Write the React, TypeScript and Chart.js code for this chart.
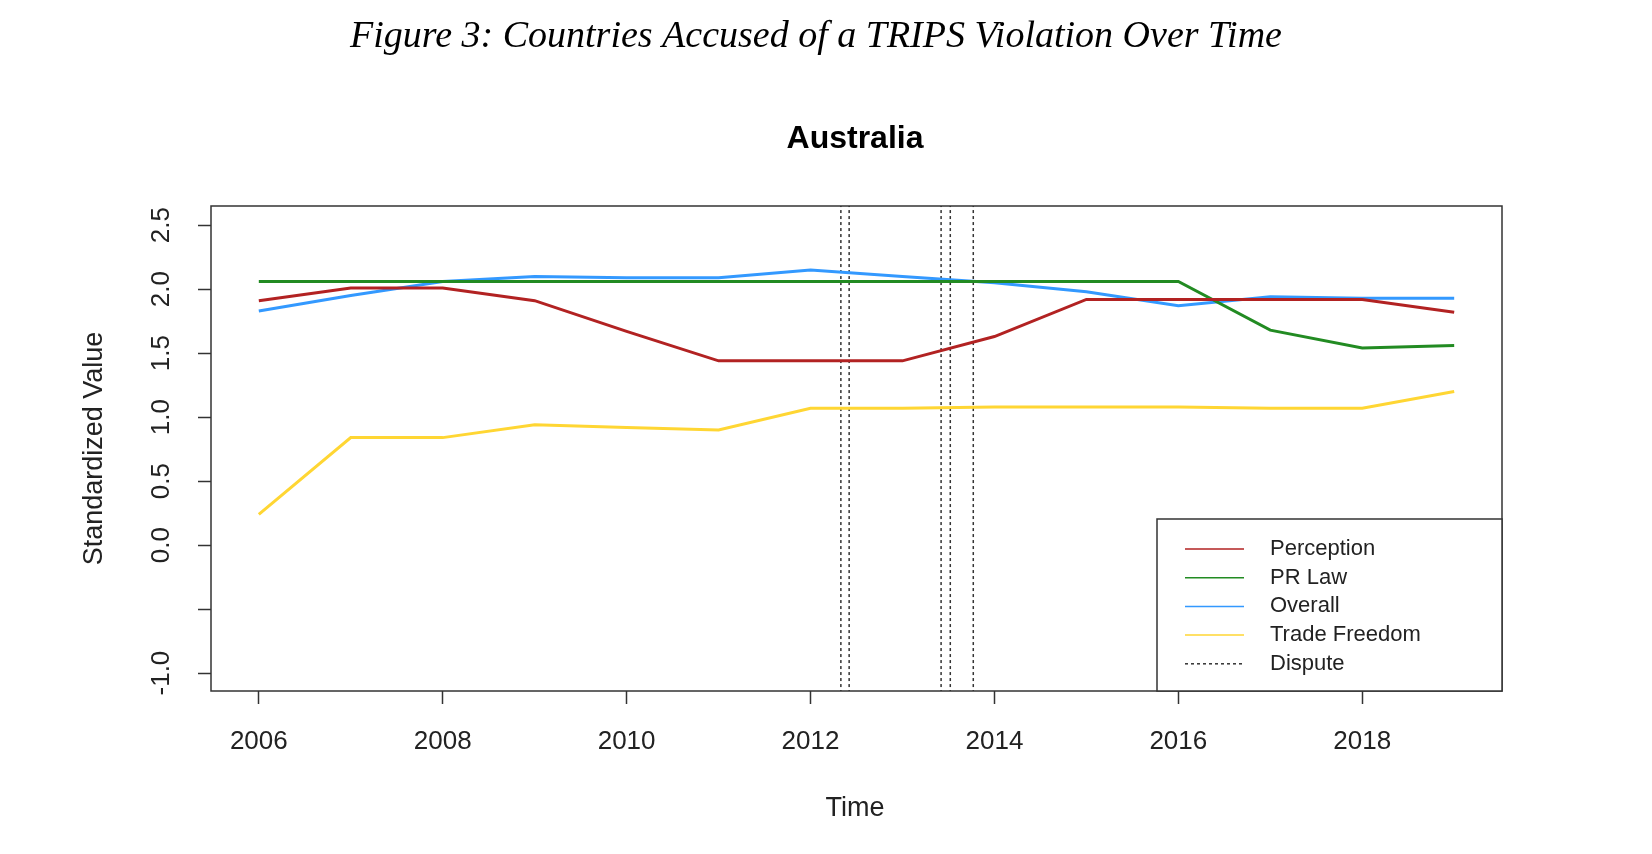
import React, { useRef, useEffect } from 'react';
import { Chart, registerables } from 'chart.js';

Chart.register(...registerables);

const years = [2006, 2007, 2008, 2009, 2010, 2011, 2012, 2013, 2014, 2015, 2016, 2017, 2018, 2019];
const perception = [1.91, 2.01, 2.01, 1.91, 1.67, 1.44, 1.44, 1.44, 1.63, 1.92, 1.92, 1.92, 1.92, 1.82];
const prLaw = [2.06, 2.06, 2.06, 2.06, 2.06, 2.06, 2.06, 2.06, 2.06, 2.06, 2.06, 1.68, 1.54, 1.56];
const overall = [1.83, 1.95, 2.06, 2.1, 2.09, 2.09, 2.15, 2.1, 2.05, 1.98, 1.87, 1.94, 1.93, 1.93];
const tradeFreedom = [0.24, 0.84, 0.84, 0.94, 0.92, 0.9, 1.07, 1.07, 1.08, 1.08, 1.08, 1.07, 1.07, 1.2];
const disputes = [2012.33, 2012.42, 2013.42, 2013.52, 2013.77];
const xTicks = [2006, 2008, 2010, 2012, 2014, 2016, 2018];
const yTicks = [-1, -0.5, 0, 0.5, 1, 1.5, 2, 2.5];
const yTickLabels = ['-1.0', '', '0.0', '0.5', '1.0', '1.5', '2.0', '2.5'];

const COLORS = { perception: '#b22222', prLaw: '#228b22', overall: '#3399ff', trade: '#ffd633', dispute: '#333333' };
const FONT = '"Liberation Sans", Arial, sans-serif';

const legendItems = [
  { label: 'Perception', color: COLORS.perception, dash: [] as number[] },
  { label: 'PR Law', color: COLORS.prLaw, dash: [] as number[] },
  { label: 'Overall', color: COLORS.overall, dash: [] as number[] },
  { label: 'Trade Freedom', color: COLORS.trade, dash: [] as number[] },
  { label: 'Dispute', color: COLORS.dispute, dash: [3, 3] }
];

const decorPlugin = {
  id: 'decor',
  afterDraw(chart: any) {
    const { ctx, chartArea: a, scales } = chart;
    ctx.save();
    // box
    ctx.strokeStyle = '#333';
    ctx.lineWidth = 1.5;
    ctx.strokeRect(a.left, a.top, a.right - a.left, a.bottom - a.top);
    // titles
    ctx.fillStyle = '#000';
    ctx.textAlign = 'center';
    ctx.textBaseline = 'middle';
    ctx.font = 'italic 38px "Liberation Serif", "Times New Roman", serif';
    ctx.fillText('Figure 3: Countries Accused of a TRIPS Violation Over Time', 816, 37);
    ctx.font = `bold 32px ${FONT}`;
    ctx.fillText('Australia', 855, 139);
    ctx.font = `27px ${FONT}`;
    ctx.fillStyle = '#222';
    ctx.fillText('Time', 855, 809);
    // y axis label & tick labels rotated
    ctx.save();
    ctx.translate(95, (a.top + a.bottom) / 2);
    ctx.rotate(-Math.PI / 2);
    ctx.fillText('Standardized Value', 0, 0);
    ctx.restore();
    ctx.font = `26px ${FONT}`;
    yTicks.forEach((v, i) => {
      if (!yTickLabels[i]) return;
      const y = scales.y.getPixelForValue(v);
      ctx.save();
      ctx.translate(162, y);
      ctx.rotate(-Math.PI / 2);
      ctx.fillText(yTickLabels[i], 0, 0);
      ctx.restore();
    });
    // legend
    const lx = 1157, ly = 519;
    ctx.fillStyle = '#fff';
    ctx.fillRect(lx, ly, a.right - lx, a.bottom - ly);
    ctx.strokeStyle = '#333';
    ctx.strokeRect(lx, ly, a.right - lx, a.bottom - ly);
    ctx.font = `22px ${FONT}`;
    ctx.textAlign = 'left';
    legendItems.forEach((it, i) => {
      const y = 549 + i * 28.7;
      ctx.strokeStyle = it.color;
      ctx.lineWidth = 1.5;
      ctx.setLineDash(it.dash);
      ctx.beginPath();
      ctx.moveTo(1185, y);
      ctx.lineTo(1244, y);
      ctx.stroke();
      ctx.setLineDash([]);
      ctx.fillStyle = '#222';
      ctx.fillText(it.label, 1270, y);
    });
    ctx.restore();
  }
};

const App: React.FC = () => {
  const canvasRef = useRef<HTMLCanvasElement>(null);

  useEffect(() => {
    if (!canvasRef.current) return;
    const series = (data: number[], color: string) => ({
      data: data.map((v, i) => ({ x: years[i], y: v })),
      borderColor: color,
      borderWidth: 3,
      pointRadius: 0,
      tension: 0
    });
    const disputeSets = disputes.map((d) => ({
      data: [{ x: d, y: -2 }, { x: d, y: 3 }],
      borderColor: COLORS.dispute,
      borderWidth: 1.5,
      borderDash: [3, 3],
      pointRadius: 0
    }));
    const chart = new Chart(canvasRef.current, {
      type: 'line',
      data: {
        datasets: [
          series(perception, COLORS.perception),
          series(prLaw, COLORS.prLaw),
          series(overall, COLORS.overall),
          series(tradeFreedom, COLORS.trade),
          ...disputeSets
        ] as any
      },
      options: {
        responsive: false,
        animation: false,
        layout: { padding: { top: 206, right: 150, left: 0, bottom: 0 } },
        plugins: { legend: { display: false }, tooltip: { enabled: false } },
        scales: {
          x: {
            type: 'linear',
            min: 2005.48,
            max: 2019.52,
            afterBuildTicks: (s: any) => { s.ticks = xTicks.map((v) => ({ value: v })); },
            afterFit: (s: any) => { s.height = 163; },
            border: { display: false },
            grid: { drawOnChartArea: false, tickLength: 13, color: '#333', tickWidth: 1.5 },
            ticks: { padding: 22, maxRotation: 0, color: '#222', font: { family: FONT, size: 26 }, callback: (v: any) => String(v) }
          },
          y: {
            min: -1.14,
            max: 2.65,
            afterBuildTicks: (s: any) => { s.ticks = yTicks.map((v) => ({ value: v })); },
            afterFit: (s: any) => { s.width = 211; },
            border: { display: false },
            grid: { drawOnChartArea: false, tickLength: 13, color: '#333', tickWidth: 1.5 },
            ticks: { display: false }
          }
        }
      },
      plugins: [decorPlugin]
    });
    return () => chart.destroy();
  }, []);

  return (
    <div style={{ position: 'absolute', left: 0, top: 0, width: 1652, height: 854, background: '#fff' }}>
      <canvas ref={canvasRef} width={1652} height={854} style={{ width: 1652, height: 854 }} />
    </div>
  );
};

export default App;
